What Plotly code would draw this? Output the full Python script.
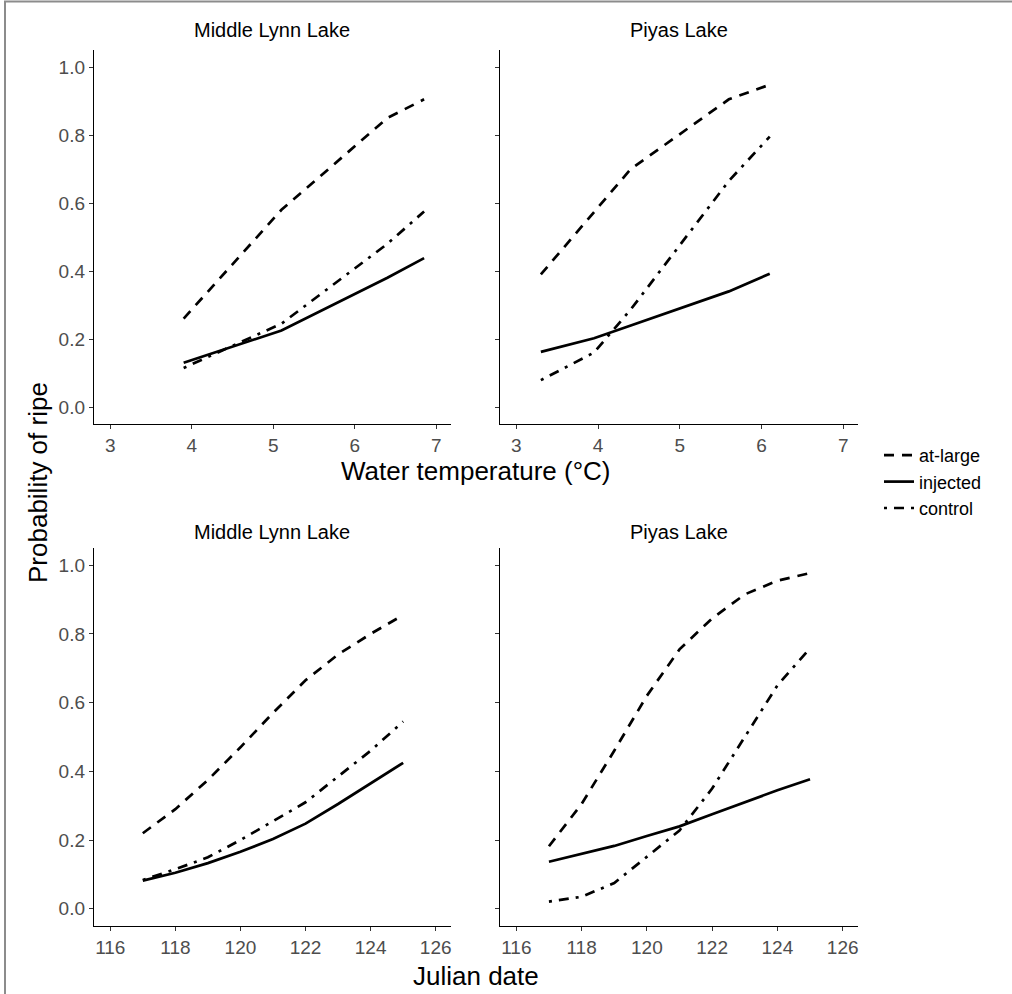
import plotly.graph_objects as go

W, H = 1012, 994

# ---- data ----
temp_mll = [3.9, 5.1, 6.4, 6.85]
mll_temp_atlarge = [0.26, 0.58, 0.85, 0.905]
mll_temp_injected = [0.13, 0.225, 0.38, 0.438]
mll_temp_control = [0.115, 0.245, 0.48, 0.575]

temp_piy = [3.3, 3.95, 4.4, 5.6, 6.1]
piy_temp_atlarge = [0.39, 0.573, 0.70, 0.905, 0.948]
piy_temp_injected = [0.162, 0.202, 0.24, 0.34, 0.392]
piy_temp_control = [0.079, 0.16, 0.287, 0.665, 0.795]

days = [117, 118, 119, 120, 121, 122, 123, 124, 125]
mll_day_atlarge = [0.22, 0.29, 0.375, 0.47, 0.57, 0.665, 0.74, 0.80, 0.855]
mll_day_injected = [0.082, 0.105, 0.133, 0.166, 0.203, 0.248, 0.305, 0.365, 0.425]
mll_day_control = [0.084, 0.115, 0.15, 0.2, 0.255, 0.31, 0.385, 0.46, 0.545]

piy_day_atlarge = [0.182, 0.305, 0.46, 0.62, 0.755, 0.845, 0.915, 0.955, 0.977]
piy_day_injected = [0.137, 0.16, 0.183, 0.212, 0.24, 0.275, 0.31, 0.345, 0.377]
piy_day_control = [0.021, 0.035, 0.075, 0.152, 0.228, 0.35, 0.5, 0.65, 0.758]

groups = ["at-large", "injected", "control"]
dashes = {"at-large": "10px,8px", "injected": "solid", "control": "3px,7px,10px,7px"}

panels = [
    ("x", "y", temp_mll, [mll_temp_atlarge, mll_temp_injected, mll_temp_control]),
    ("x2", "y2", temp_piy, [piy_temp_atlarge, piy_temp_injected, piy_temp_control]),
    ("x3", "y3", days, [mll_day_atlarge, mll_day_injected, mll_day_control]),
    ("x4", "y4", days, [piy_day_atlarge, piy_day_injected, piy_day_control]),
]

FONT = "Liberation Sans, Arial, sans-serif"
TICK = 19


def px_x(p):
    return p / W


def px_y(p):
    return 1 - p / H


fig = go.Figure()
for i, (xa, ya, xs, series) in enumerate(panels):
    for g, ys in zip(groups, series):
        fig.add_trace(go.Scatter(
            x=xs, y=ys, mode="lines", xaxis=xa, yaxis=ya, name=g,
            legendgroup=g, showlegend=(i == 0),
            line=dict(color="black", width=2.7, dash=dashes[g]),
        ))

doms_x = {"L": [px_x(94), px_x(451)], "R": [px_x(500), px_x(858)]}
doms_y = {"T": [px_y(424), px_y(50)], "B": [px_y(926), px_y(548)]}


def xaxis(dom, rng, tv, anchor):
    return dict(domain=dom, range=rng, tickvals=tv, anchor=anchor,
                showline=True, linecolor="black", linewidth=1.4, mirror=False,
                ticks="outside", ticklen=4, tickcolor="#333333", tickwidth=1.2,
                showgrid=False, zeroline=False,
                tickfont=dict(family=FONT, size=TICK, color="#4D4D4D"))


def yaxis(dom, anchor, labels):
    return dict(domain=dom, range=[-0.05, 1.05], tickvals=[0, 0.2, 0.4, 0.6, 0.8, 1.0],
                ticktext=["0.0", "0.2", "0.4", "0.6", "0.8", "1.0"] if labels else [""] * 6,
                anchor=anchor, showline=True, linecolor="black", linewidth=1.4,
                ticks="outside", ticklen=4, tickcolor="#333333", tickwidth=1.2,
                showgrid=False, zeroline=False,
                tickfont=dict(family=FONT, size=TICK, color="#4D4D4D"))


trange = [2.8, 7.18]
drange = [115.5, 126.47]
fig.update_layout(
    width=W, height=H, margin=dict(l=0, r=0, t=0, b=0),
    paper_bgcolor="white", plot_bgcolor="white",
    xaxis=xaxis(doms_x["L"], trange, [3, 4, 5, 6, 7], "y"),
    yaxis=yaxis(doms_y["T"], "x", True),
    xaxis2=xaxis(doms_x["R"], trange, [3, 4, 5, 6, 7], "y2"),
    yaxis2=yaxis(doms_y["T"], "x2", False),
    xaxis3=xaxis(doms_x["L"], drange, [116, 118, 120, 122, 124, 126], "y3"),
    yaxis3=yaxis(doms_y["B"], "x3", True),
    xaxis4=xaxis(doms_x["R"], drange, [116, 118, 120, 122, 124, 126], "y4"),
    yaxis4=yaxis(doms_y["B"], "x4", False),
    legend=dict(x=px_x(879), y=px_y(437), xanchor="left", yanchor="top",
                font=dict(family=FONT, size=18, color="black"),
                bgcolor="rgba(0,0,0,0)", itemwidth=30, tracegroupgap=0),
    showlegend=True,
)

annos = [
    (272, 30, "Middle Lynn Lake"), (679, 30, "Piyas Lake"),
    (272, 532, "Middle Lynn Lake"), (679, 532, "Piyas Lake"),
]
for x, y, t in annos:
    fig.add_annotation(x=px_x(x), y=px_y(y), xref="paper", yref="paper", text=t,
                       showarrow=False, xanchor="center", yanchor="middle",
                       font=dict(family=FONT, size=20, color="black"))

fig.add_annotation(x=px_x(476), y=px_y(471), xref="paper", yref="paper",
                   text="Water temperature (°C)", showarrow=False,
                   xanchor="center", yanchor="middle",
                   font=dict(family=FONT, size=26, color="black"))
fig.add_annotation(x=px_x(476), y=px_y(976), xref="paper", yref="paper",
                   text="Julian date", showarrow=False,
                   xanchor="center", yanchor="middle",
                   font=dict(family=FONT, size=26, color="black"))
fig.add_annotation(x=px_x(38), y=px_y(483), xref="paper", yref="paper",
                   text="Probability of ripe", showarrow=False, textangle=-90,
                   xanchor="center", yanchor="middle",
                   font=dict(family=FONT, size=26, color="black"))

# outer border (top and left)
fig.add_shape(type="line", xref="paper", yref="paper", x0=px_x(4), x1=1, y0=px_y(1.5), y1=px_y(1.5),
              line=dict(color="#8c8c8c", width=2))
fig.add_shape(type="line", xref="paper", yref="paper", x0=px_x(5), x1=px_x(5), y0=0, y1=px_y(1),
              line=dict(color="#8c8c8c", width=2))

fig.write_html("out.html", config={"displayModeBar": False},
               post_script="document.body.style.margin='0';")
